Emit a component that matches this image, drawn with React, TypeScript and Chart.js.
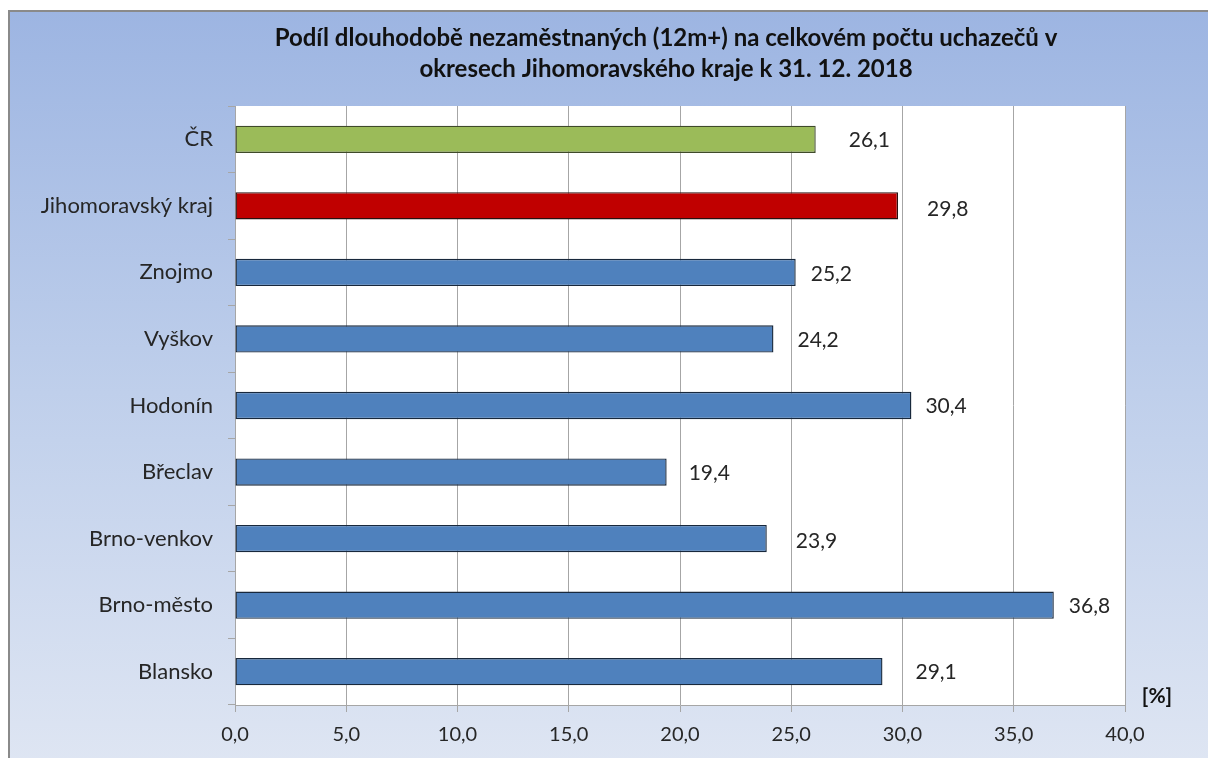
import React, { useEffect, useRef } from "react";
import { Chart, registerables } from "chart.js";

Chart.register(...registerables);

const categories = ["ČR", "Jihomoravský kraj", "Znojmo", "Vyškov", "Hodonín", "Břeclav", "Brno-venkov", "Brno-město", "Blansko"];
const values = [26.1, 29.8, 25.2, 24.2, 30.4, 19.4, 23.9, 36.8, 29.1];
const barColors = ["#9bbb59", "#c00000", "#4f81bd", "#4f81bd", "#4f81bd", "#4f81bd", "#4f81bd", "#4f81bd", "#4f81bd"];
const borderColors = ["#3f4a2a", "#2a1010", "#18283c", "#18283c", "#18283c", "#18283c", "#18283c", "#18283c", "#18283c"];
const titleLines = ["Podíl dlouhodobě nezaměstnaných (12m+) na celkovém počtu uchazečů v", "okresech Jihomoravského kraje k 31. 12. 2018"];
const unitLabel = "[%]";
// manual nudges of the value labels (px right of bar end, px down), as in the original
const labelDx = [33, 29, 15, 24, 14, 22, 29, 15, 33];
const labelDy = [1, 3, 2, 1, 1, 1, 3, 1, 1];

const FONT = "Lato";
const fmt = (v: number) => v.toFixed(1).replace(".", ",");

export default function App() {
  const ref = useRef<HTMLCanvasElement | null>(null);
  useEffect(() => {
    const canvas = ref.current!;
    const decor = {
      id: "decor",
      beforeDraw(chart: any) {
        const { ctx, chartArea: a } = chart;
        ctx.save();
        ctx.fillStyle = "#ffffff";
        ctx.fillRect(a.left, a.top, a.right - a.left, a.bottom - a.top);
        ctx.restore();
      },
      afterDraw(chart: any) {
        const { ctx } = chart;
        ctx.save();
        ctx.fillStyle = "#111111";
        ctx.textAlign = "center";
        ctx.textBaseline = "middle";
        ctx.font = `bold 24px ${FONT}`;
        ctx.fillText(titleLines[0], 666, 38);
        ctx.fillText(titleLines[1], 666, 69);
        ctx.font = `bold 21px ${FONT}`;
        ctx.fillText(unitLabel, 1157, 696);
        ctx.font = `21px ${FONT}`;
        ctx.fillStyle = "#262626";
        ctx.textAlign = "left";
        const meta = chart.getDatasetMeta(0);
        meta.data.forEach((el: any, i: number) => {
          ctx.fillText(fmt(values[i]), el.x + labelDx[i], el.y + labelDy[i]);
        });
        ctx.restore();
      },
    };
    const chart = new Chart(canvas, {
      type: "bar",
      data: {
        labels: categories,
        datasets: [
          {
            data: values,
            backgroundColor: barColors,
            borderColor: borderColors,
            borderWidth: 1.4,
            borderSkipped: false,
            categoryPercentage: 0.41,
            barPercentage: 1,
          },
        ],
      },
      options: {
        indexAxis: "y",
        animation: false,
        responsive: false,
        maintainAspectRatio: false,
        layout: { padding: { top: 106, right: 83, left: 0, bottom: 0 } },
        plugins: { legend: { display: false }, tooltip: { enabled: false }, title: { display: false } },
        scales: {
          x: {
            min: 0,
            max: 40,
            ticks: {
              stepSize: 5,
              callback: (v: any) => fmt(Number(v)),
              color: "#262626",
              font: { family: FONT, size: 20 },
              padding: 11,
              maxRotation: 0,
            },
            grid: { color: "#a6a6a6", lineWidth: 1, tickLength: 7, drawTicks: true },
            border: { color: "#a6a6a6", width: 1 },
            afterFit: (s: any) => {
              s.height = 53;
            },
          },
          y: {
            ticks: {
              color: "#262626",
              font: { family: FONT, size: 22 },
              padding: 15,
            },
            grid: { drawOnChartArea: false, color: "#a6a6a6", tickLength: 7, offset: true },
            border: { color: "#a6a6a6", width: 1 },
            afterFit: (s: any) => {
              s.width = 235;
            },
          },
        },
      },
      plugins: [decor],
    });
    return () => chart.destroy();
  }, []);

  return (
    <div style={{ position: "fixed", left: 0, top: 0, width: 1208, height: 758, overflow: "hidden", background: "#ffffff" }}>
      <div
        style={{
          position: "absolute",
          left: 8,
          top: 10,
          width: 1300,
          height: 760,
          border: "2px solid #8a8a8a",
          background: "linear-gradient(to bottom, #9db5e2 0%, #bfcfeb 50%, #dfe6f3 100%)",
        }}
      />
      <canvas ref={ref} width={1208} height={758} style={{ position: "absolute", left: 0, top: 0, width: 1208, height: 758 }} />
    </div>
  );
}
